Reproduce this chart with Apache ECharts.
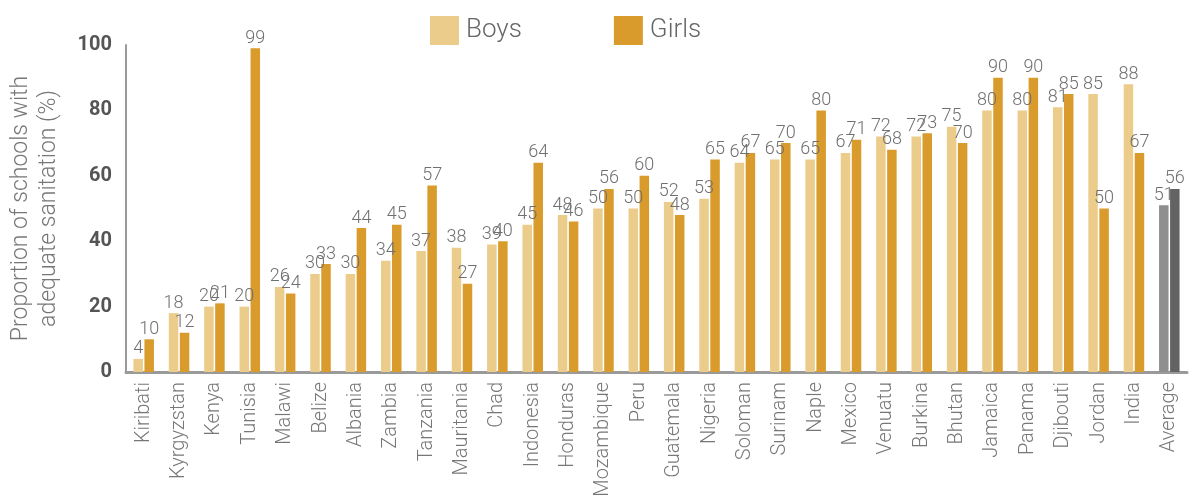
<!DOCTYPE html>
<html>
<head>
<meta charset="utf-8">
<script src="https://cdn.jsdelivr.net/npm/echarts@6/dist/echarts.min.js"></script>
<style>
html,body{margin:0;padding:0;background:#fff;}
#chart{width:1194px;height:502px;}
</style>
</head>
<body>
<div id="chart"></div>
<script>
const categories = ['Kiribati','Kyrgyzstan','Kenya','Tunisia','Malawi','Belize','Albania','Zambia','Tanzania','Mauritania','Chad','Indonesia','Honduras','Mozambique','Peru','Guatemala','Nigeria','Soloman','Surinam','Naple','Mexico','Venuatu','Burkina','Bhutan','Jamaica','Panama','Djibouti','Jordan','India','Average'];
const boys  = [4,18,20,20,26,30,30,34,37,38,39,45,48,50,50,52,53,64,65,65,67,72,72,75,80,80,81,85,88,51];
const girls = [10,12,21,99,24,33,44,45,57,27,40,64,46,56,60,48,65,67,70,80,71,68,73,70,90,90,85,50,67,56];
const yTicks = [0,20,40,60,80,100];

const BOYS_COLOR = '#ECCC8A', GIRLS_COLOR = '#D99B2B';
const AVG_BOYS = '#8F8F8F', AVG_GIRLS = '#636363';
const FONT = 'Roboto, "Liberation Sans", Arial, sans-serif';

function build(vals, avgColor) {
  return vals.map((v, i) => categories[i] === 'Average'
    ? { value: v, itemStyle: { color: avgColor } }
    : v);
}

const labelStyle = { show: true, position: 'top', distance: 1, color: '#707070', fontSize: 18, fontFamily: FONT, fontWeight: 300 };

const chart = echarts.init(document.getElementById('chart'));
chart.setOption({
  animation: false,
  textStyle: { fontFamily: FONT },
  legend: {
    left: 425, top: 11,
    itemWidth: 29, itemHeight: 29, itemGap: 92,
    icon: 'rect',
    textStyle: { fontSize: 26, color: '#666', fontFamily: FONT, fontWeight: 300, padding: [0, 0, 0, 2] },
    data: ['Boys', 'Girls']
  },
  grid: { left: 126, right: 7, top: 45, bottom: 130, outerBoundsMode: 'none' },
  xAxis: {
    type: 'category',
    data: categories,
    axisLine: { lineStyle: { color: '#9a9a9a', width: 3 } },
    axisTick: { show: false },
    axisLabel: { rotate: 90, fontSize: 20, color: '#777', margin: 10, interval: 0, fontFamily: FONT, fontWeight: 300 }
  },
  yAxis: {
    type: 'value',
    min: yTicks[0], max: yTicks[yTicks.length - 1], interval: 20,
    name: 'Proportion of schools with\nadequate sanitation (%)',
    nameLocation: 'middle',
    nameGap: 63,
    nameRotate: 90,
    nameTextStyle: { fontSize: 23, color: '#777', lineHeight: 28, fontFamily: FONT, fontWeight: 300 },
    axisLine: { show: true, lineStyle: { color: '#9a9a9a', width: 2 } },
    axisTick: { show: false },
    splitLine: { show: false },
    axisLabel: { fontSize: 20, fontWeight: 'bold', color: '#555', margin: 14, fontFamily: FONT }
  },
  series: [
    { name: 'Boys', type: 'bar', data: build(boys, AVG_BOYS), barWidth: 9.5, barGap: '16%',
      itemStyle: { color: BOYS_COLOR }, label: labelStyle },
    { name: 'Girls', type: 'bar', data: build(girls, AVG_GIRLS), barWidth: 9.5, barGap: '16%',
      itemStyle: { color: GIRLS_COLOR }, label: labelStyle }
  ]
});
</script>
</body>
</html>
